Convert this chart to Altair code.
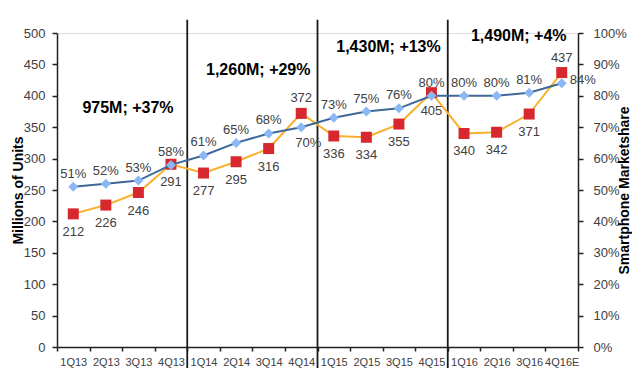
import altair as alt
import pandas as pd

# ---------------- data ----------------
quarters = ["1Q13", "2Q13", "3Q13", "4Q13", "1Q14", "2Q14", "3Q14", "4Q14",
            "1Q15", "2Q15", "3Q15", "4Q15", "1Q16", "2Q16", "3Q16", "4Q16E"]
units = [212, 226, 246, 291, 277, 295, 316, 372, 336, 334, 355, 405, 340, 342, 371, 437]
share = [51, 52, 53, 58, 61, 65, 68, 70, 73, 75, 76, 80, 80, 80, 81, 84]

year_starts = ["1Q14", "1Q15", "1Q16"]
annot_text = ["975M; +37%", "1,260M; +29%", "1,430M; +13%", "1,490M; +4%"]
annot_quarter = ["3Q13", "3Q14", "3Q15", "3Q16"]
annot_level = [381, 441, 477, 495]

units_ticks = list(range(0, 501, 50))
share_ticks = list(range(0, 101, 10))

units_label_above = ["4Q14", "4Q16E"]
share_label_below = ["4Q14"]
share_label_right = ["4Q16E"]

FONT = "Liberation Sans"
LBL = "#404040"

df = pd.DataFrame({"quarter": quarters, "units": units, "share": share})
rules_df = pd.DataFrame({"quarter": year_starts, "units": [521] * len(year_starts),
                         "units_end": [-60] * len(year_starts)})
annot_df = pd.DataFrame({"quarter": annot_quarter, "units": annot_level, "text": annot_text})

xscale = alt.Scale(type="band", domain=quarters, paddingInner=0, paddingOuter=0)
xaxis = alt.Axis(title=None, tickBand="extent", labelFont=FONT, labelFontSize=11,
                 labelColor=LBL, labelPadding=5, labelAngle=0, labelOverlap=False,
                 tickSize=4, tickColor="#222", tickWidth=1.5,
                 domainColor="#222", domainWidth=1.5, grid=False)


def X(pos=0.5):
    return alt.X("quarter:N", sort=quarters, scale=xscale, axis=xaxis, bandPosition=pos)


left_axis = alt.Axis(values=units_ticks, title="Millions of Units", titleFont=FONT,
                     titleFontSize=14, titleFontWeight="bold", titleColor="#000",
                     titleAngle=270, titleX=-35, titleY=157, titleAlign="center",
                     titleBaseline="alphabetic",
                     labelFont=FONT, labelFontSize=13, labelColor=LBL, labelPadding=7,
                     tickSize=5, tickColor="#222", tickWidth=1.5,
                     domainColor="#222", domainWidth=1.5, grid=False)
right_axis = alt.Axis(values=share_ticks, orient="right", title="Smartphone Marketshare",
                      titleFont=FONT, titleFontSize=14, titleFontWeight="bold",
                      titleColor="#000", titleAngle=270, titleX=50, titleY=157,
                      titleAlign="center", titleBaseline="alphabetic",
                      labelExpr="datum.value + '%'",
                      labelFont=FONT, labelFontSize=13, labelColor=LBL, labelPadding=10,
                      tickSize=5, tickColor="#222", tickWidth=1.5,
                      domainColor="#222", domainWidth=1.5, grid=False)

uscale = alt.Scale(domain=[0, 500], nice=False, zero=True)
sscale = alt.Scale(domain=[0, 100], nice=False, zero=True)


def YU(field="units"):
    return alt.Y(f"{field}:Q", scale=uscale, axis=left_axis, title="Millions of Units")


def YS():
    return alt.Y("share:Q", scale=sscale, axis=right_axis, title="Smartphone Marketshare")


# ---------------- left (units) group ----------------
rules = alt.Chart(rules_df).mark_rule(color="#1a1a1a", strokeWidth=1.8).encode(
    x=X(0), y=YU(), y2=alt.Y2("units_end:Q"))

u_line = alt.Chart(df).mark_line(color="#F7B12D", strokeWidth=2).encode(x=X(), y=YU())
u_pts = alt.Chart(df).mark_point(shape="square", filled=True, size=121, opacity=1,
                                 color="#D8282F").encode(x=X(), y=YU())

u_lbl_below = alt.Chart(df).transform_filter(
    {"not": alt.FieldOneOfPredicate(field="quarter", oneOf=units_label_above)}
).mark_text(font=FONT, fontSize=13, color=LBL, dy=18).encode(
    x=X(), y=YU(), text="units:Q")
u_lbl_above = alt.Chart(df).transform_filter(
    alt.FieldOneOfPredicate(field="quarter", oneOf=units_label_above)
).mark_text(font=FONT, fontSize=13, color=LBL, dy=-15).encode(
    x=X(), y=YU(), text="units:Q")

annots = alt.Chart(annot_df).mark_text(font=FONT, fontSize=16, fontWeight="bold",
                                       color="#000", align="center").encode(
    x=X(0.18), y=YU(), text="text:N")

left = alt.layer(rules, u_line, u_pts, u_lbl_below, u_lbl_above, annots)

# ---------------- right (share) group ----------------
s_base = alt.Chart(df).transform_calculate(label="datum.share + '%'")
s_line = s_base.mark_line(color="#3D6898", strokeWidth=2).encode(x=X(), y=YS())
s_pts = s_base.mark_point(shape="diamond", filled=True, size=100, opacity=1,
                          color="#8BB8F4").encode(x=X(), y=YS())
s_lbl_above = s_base.transform_filter(
    {"not": alt.FieldOneOfPredicate(field="quarter", oneOf=share_label_below + share_label_right)}
).mark_text(font=FONT, fontSize=13, color=LBL, dy=-13).encode(x=X(), y=YS(), text="label:N")
s_lbl_below = s_base.transform_filter(
    alt.FieldOneOfPredicate(field="quarter", oneOf=share_label_below)
).mark_text(font=FONT, fontSize=13, color=LBL, dy=16, dx=7).encode(x=X(), y=YS(), text="label:N")
s_lbl_right = s_base.transform_filter(
    alt.FieldOneOfPredicate(field="quarter", oneOf=share_label_right)
).mark_text(font=FONT, fontSize=13, color=LBL, dy=-3, dx=8, align="left").encode(
    x=X(), y=YS(), text="label:N")

right = alt.layer(s_line, s_pts, s_lbl_above, s_lbl_below, s_lbl_right)

chart = alt.layer(left, right).resolve_scale(y="independent").properties(
    width=521, height=314,
    autosize=alt.AutoSizeParams(type="none"),
    padding={"left": 49, "top": 25, "right": 54, "bottom": 21},
).configure_view(stroke=None).configure(background="#ffffff")

chart.save("out.html", embed_options={"renderer": "svg", "actions": False})
